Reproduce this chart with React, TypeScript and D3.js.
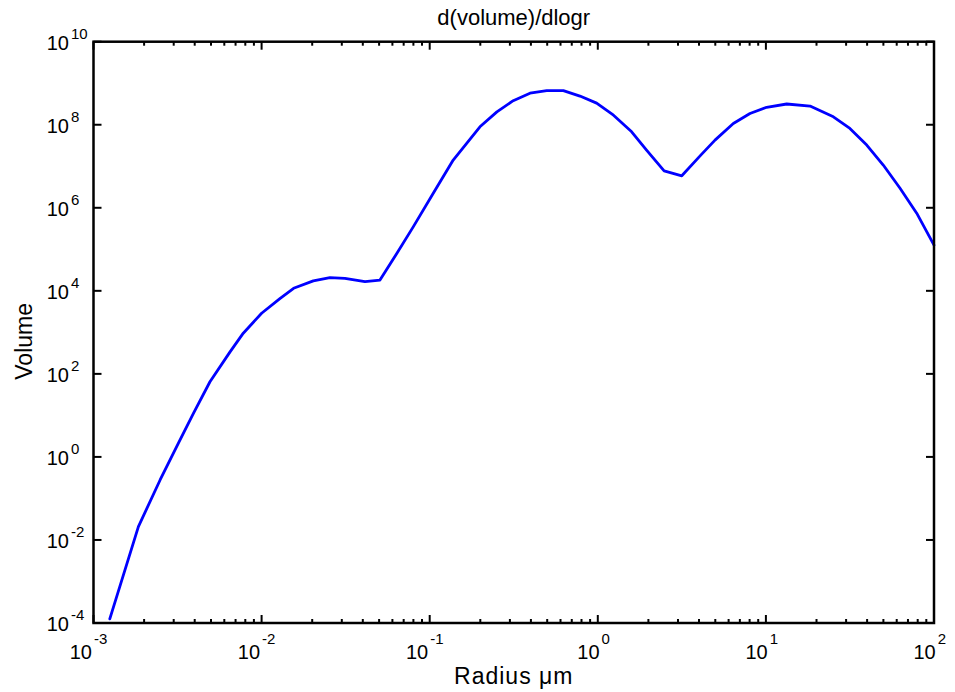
import React from 'react';
import * as d3 from 'd3';

// radius (um) and d(volume)/dlogr
const radius = [
  1.25e-3, 1.85e-3, 2.49e-3, 3.2e-3, 3.93e-3, 4.93e-3, 6.49e-3, 7.78e-3, 1.0e-2, 1.29e-2,
  1.55e-2, 2.03e-2, 2.55e-2, 3.13e-2, 4.12e-2, 5.06e-2, 6.37e-2, 7.98e-2, 0.105, 0.138,
  0.199, 0.251, 0.314, 0.395, 0.497, 0.624, 0.783, 0.984, 1.24, 1.59,
  1.95, 2.48, 3.16, 4.06, 4.98, 6.4, 8.04, 10.1, 13.3, 18.3,
  25.2, 31.6, 39.8, 49.9, 62.8, 78.9, 100,
];
const volume = [
  1.26e-4, 2.1e-2, 0.278, 2.14, 11.2, 64.6, 339, 955, 2880, 6610,
  1.15e4, 1.74e4, 2.09e4, 2.0e4, 1.66e4, 1.82e4, 7.94e4, 3.47e5, 2.24e6, 1.41e7,
  8.91e7, 2.04e8, 3.8e8, 5.75e8, 6.61e8, 6.61e8, 4.9e8, 3.31e8, 1.7e8, 6.76e7,
  2.45e7, 7.76e6, 5.89e6, 1.78e7, 4.27e7, 1.07e8, 1.86e8, 2.63e8, 3.16e8, 2.82e8,
  1.55e8, 8.13e7, 3.24e7, 1.07e7, 2.95e6, 7.41e5, 1.26e5,
];

const xTickExps = [-3, -2, -1, 0, 1, 2];
const yTickExps = [-4, -2, 0, 2, 4, 6, 8, 10];

const title = 'd(volume)/dlogr';
const xLabel = 'Radius \u03bcm';
const yLabel = 'Volume';

const width = 955;
const height = 692;
const left = 93.5;
const right = 934;
const top = 41.7;
const bottom = 623;
const font = 'Arial, "Liberation Sans", Helvetica, sans-serif';

export default function App() {
  const x = d3.scaleLog().domain([1e-3, 1e2]).range([left, right]);
  const y = d3.scaleLog().domain([1e-4, 1e10]).range([bottom, top]);

  const line = d3.line<number>()
    .x((_, i) => x(radius[i]))
    .y(d => y(d));

  const minorX: number[] = [];
  for (let e = -3; e < 2; e++) {
    for (let m = 2; m <= 9; m++) minorX.push(m * Math.pow(10, e));
  }

  const majorLen = 8;
  const minorLen = 4;

  return (
    <svg width={width} height={height} style={{ position: 'absolute', left: 0, top: 0, background: '#fff' }}
      fontFamily={font}>
      <rect x={0} y={0} width={width} height={height} fill="#fff" />

      {/* x ticks, bottom and top */}
      {xTickExps.map(e => {
        const px = x(Math.pow(10, e));
        return (
          <g key={'xt' + e} stroke="#000" strokeWidth={2}>
            <line x1={px} x2={px} y1={bottom} y2={bottom - majorLen} />
            <line x1={px} x2={px} y1={top} y2={top + majorLen} />
          </g>
        );
      })}
      {minorX.map((v, i) => {
        const px = x(v);
        return (
          <g key={'xm' + i} stroke="#000" strokeWidth={2}>
            <line x1={px} x2={px} y1={bottom} y2={bottom - minorLen} />
            <line x1={px} x2={px} y1={top} y2={top + minorLen} />
          </g>
        );
      })}

      {/* y ticks, left and right */}
      {yTickExps.map(e => {
        const py = y(Math.pow(10, e));
        return (
          <g key={'yt' + e} stroke="#000" strokeWidth={2}>
            <line x1={left} x2={left + majorLen} y1={py} y2={py} />
            <line x1={right} x2={right - majorLen} y1={py} y2={py} />
          </g>
        );
      })}

      {/* curve */}
      <path d={line(volume) ?? ''} fill="none" stroke="#0000ff" strokeWidth={2.8}
        strokeLinejoin="round" strokeLinecap="round" />

      {/* frame */}
      <rect x={left} y={top} width={right - left} height={bottom - top}
        fill="none" stroke="#000" strokeWidth={2.5} />

      {/* x tick labels */}
      {xTickExps.map(e => {
        const px = x(Math.pow(10, e));
        const expW = String(e).length * 6.5;
        return (
          <g key={'xl' + e} fill="#000">
            <text x={px + 5 - expW / 2} y={659} fontSize={20} textAnchor="end">10</text>
            <text x={px + 7 - expW / 2} y={644} fontSize={15}>{e}</text>
          </g>
        );
      })}

      {/* y tick labels */}
      {yTickExps.map(e => {
        const py = y(Math.pow(10, e));
        return (
          <g key={'yl' + e} fill="#000">
            <text x={69} y={py + 8} fontSize={20} textAnchor="end">10</text>
            <text x={71} y={py - 3} fontSize={15}>{e}</text>
          </g>
        );
      })}

      <text x={(left + right) / 2} y={25} fontSize={22} textAnchor="middle" fill="#000">{title}</text>
      <text x={(left + right) / 2} y={684} fontSize={23} textAnchor="middle" fill="#000"
        letterSpacing={1}>{xLabel}</text>
      <text transform={`translate(32, ${(top + bottom) / 2 + 9}) rotate(-90)`} fontSize={23}
        textAnchor="middle" fill="#000">{yLabel}</text>
    </svg>
  );
}
